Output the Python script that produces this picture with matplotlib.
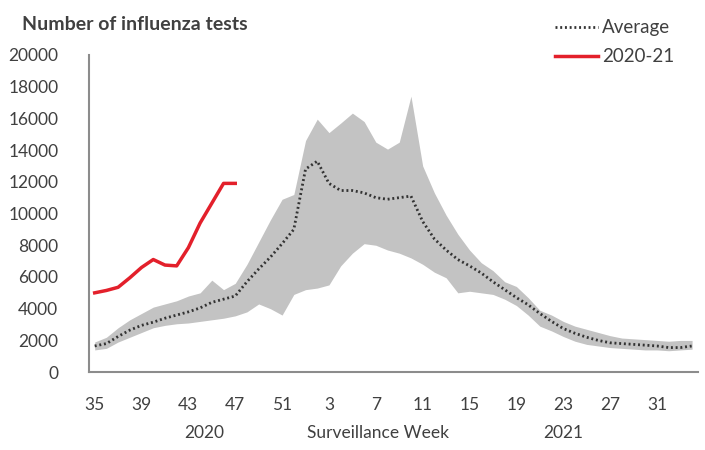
import numpy as np
import matplotlib
matplotlib.use('Agg')
import matplotlib.pyplot as plt

plt.rcParams['font.family'] = ['Lato', 'DejaVu Sans']

# %% Data ---------------------------------------------------------------------

# surveillance weeks 35..52 (2020) and 1..34 (2021)
weeks = list(range(35, 53)) + list(range(1, 35))

average = [1650, 1800, 2250, 2650, 2950, 3150, 3400, 3600, 3800, 4050,
           4400, 4600, 4800, 5700, 6500, 7250, 8100, 9000, 12800, 13300,
           11900, 11450, 11450, 11300, 11000, 10900, 11000, 11100, 9500, 8400,
           7700, 7100, 6700, 6250, 5700, 5200, 4700, 4250, 3700, 3200,
           2750, 2450, 2200, 2000, 1850, 1800, 1750, 1700, 1650, 1550,
           1550, 1650]

band_max = [1900, 2200, 2800, 3300, 3700, 4100, 4300, 4500, 4800, 5000,
            5800, 5200, 5600, 6800, 8200, 9600, 10900, 11200, 14600, 15950,
            15100, 15700, 16330, 15800, 14500, 14060, 14500, 17400, 13000, 11300,
            9900, 8700, 7700, 6900, 6400, 5700, 5400, 4700, 3900, 3600,
            3200, 2900, 2700, 2500, 2300, 2150, 2100, 2050, 2000, 1950,
            2000, 2000]

band_min = [1400, 1500, 1900, 2200, 2500, 2800, 2950, 3050, 3100, 3200,
            3300, 3400, 3550, 3800, 4300, 4000, 3600, 4900, 5200, 5300,
            5500, 6700, 7500, 8100, 8000, 7700, 7500, 7200, 6800, 6300,
            5950, 5000, 5100, 5000, 4900, 4600, 4200, 3600, 2900, 2600,
            2250, 1950, 1750, 1650, 1550, 1500, 1450, 1400, 1400, 1350,
            1400, 1450]

# current season, weeks 35..47
season_2020 = [5000, 5150, 5350, 5950, 6600, 7100, 6750, 6700, 7850, 9400,
               10650, 11900, 11900]

tick_every = 4
yticks = np.arange(0, 20001, 2000)

# %% Plot ---------------------------------------------------------------------

text_col = '#404040'
fig = plt.figure(figsize=(7.05, 4.5), dpi=100)
ax = fig.add_axes([0.126, 0.173, 0.864, 0.705])

x = np.arange(len(weeks))
ax.fill_between(x, band_min, band_max, color='#c3c3c3', lw=0)
ax.plot(x, average, color='#333333', lw=2, ls=(0, (0.7, 1.0)), label='Average')
ax.plot(np.arange(len(season_2020)), season_2020, color='#e3202b', lw=2.5,
        label='2020-21')

ax.set_xlim(-0.5, len(weeks) - 0.5)
ax.set_ylim(0, 20000)
ax.set_yticks(yticks)
ax.set_yticklabels([str(v) for v in yticks])
ax.set_xticks(x[::tick_every])
ax.set_xticklabels([str(w) for w in weeks[::tick_every]])
ax.tick_params(length=0, labelsize=12.5, colors=text_col)
ax.tick_params(axis='x', pad=18)
ax.tick_params(axis='y', pad=22)

for s in ['top', 'right']:
    ax.spines[s].set_visible(False)
for s in ['left', 'bottom']:
    ax.spines[s].set_color('#8c8c8c')
    ax.spines[s].set_linewidth(1.5)

# secondary x labels
fig.text(204 / 705, 1 - 433 / 450, '2020', ha='center', va='center',
         fontsize=12.5, color=text_col)
fig.text(378 / 705, 1 - 433 / 450, 'Surveillance Week', ha='center',
         va='center', fontsize=12.5, color=text_col)
fig.text(563 / 705, 1 - 433 / 450, '2021', ha='center', va='center',
         fontsize=12.5, color=text_col)

fig.text(22 / 705, 1 - 24 / 450, 'Number of influenza tests', ha='left',
         va='center', fontsize=14, fontweight='bold', color=text_col)

fig.legend(loc='upper right', bbox_to_anchor=(0.98, 0.995), frameon=False,
           fontsize=13.5, handlelength=2.3, handletextpad=0.2,
           labelspacing=0.65, labelcolor=text_col)

fig.savefig('out.png', dpi=100)
